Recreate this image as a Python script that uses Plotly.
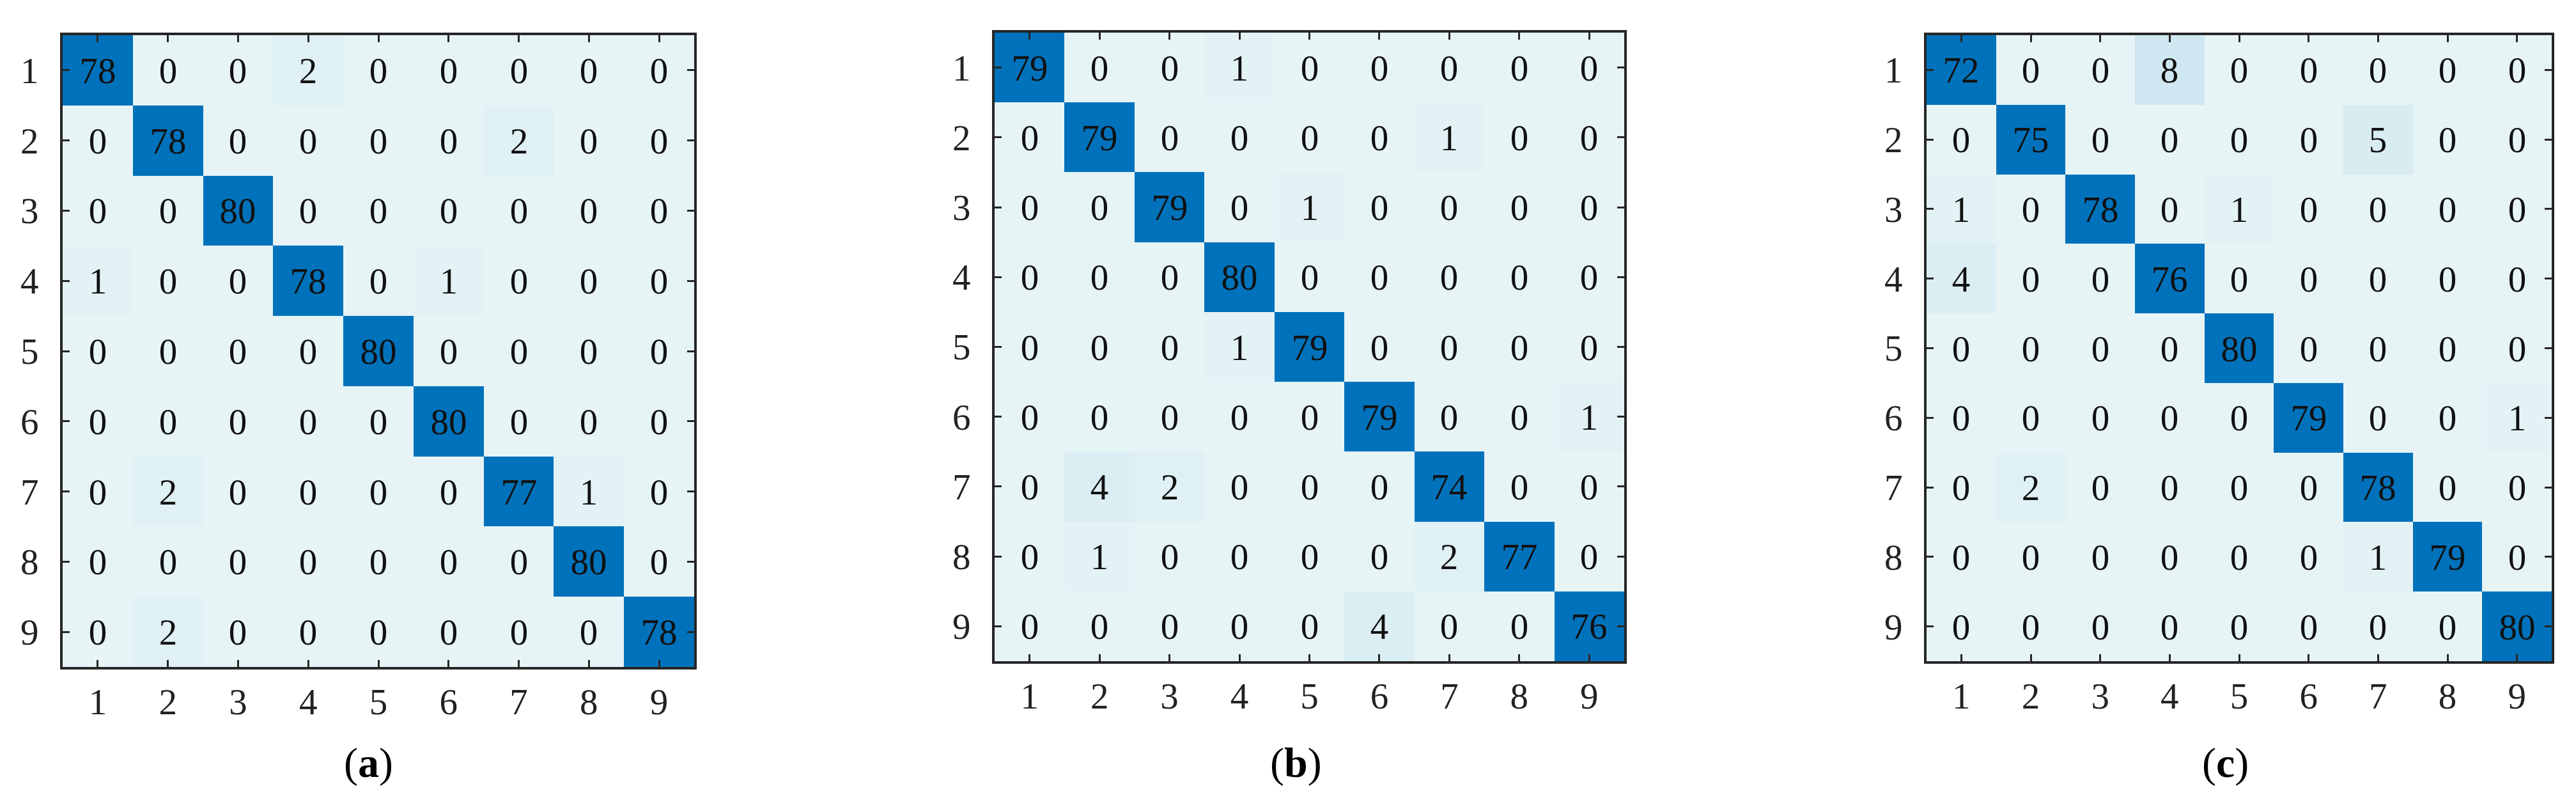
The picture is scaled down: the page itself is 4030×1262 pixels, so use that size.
import plotly.graph_objects as go

classes = [1, 2, 3, 4, 5, 6, 7, 8, 9]
panel_labels = ["a", "b", "c"]

cm_a = [
    [78, 0, 0, 2, 0, 0, 0, 0, 0],
    [0, 78, 0, 0, 0, 0, 2, 0, 0],
    [0, 0, 80, 0, 0, 0, 0, 0, 0],
    [1, 0, 0, 78, 0, 1, 0, 0, 0],
    [0, 0, 0, 0, 80, 0, 0, 0, 0],
    [0, 0, 0, 0, 0, 80, 0, 0, 0],
    [0, 2, 0, 0, 0, 0, 77, 1, 0],
    [0, 0, 0, 0, 0, 0, 0, 80, 0],
    [0, 2, 0, 0, 0, 0, 0, 0, 78],
]

cm_b = [
    [79, 0, 0, 1, 0, 0, 0, 0, 0],
    [0, 79, 0, 0, 0, 0, 1, 0, 0],
    [0, 0, 79, 0, 1, 0, 0, 0, 0],
    [0, 0, 0, 80, 0, 0, 0, 0, 0],
    [0, 0, 0, 1, 79, 0, 0, 0, 0],
    [0, 0, 0, 0, 0, 79, 0, 0, 1],
    [0, 4, 2, 0, 0, 0, 74, 0, 0],
    [0, 1, 0, 0, 0, 0, 2, 77, 0],
    [0, 0, 0, 0, 0, 4, 0, 0, 76],
]

cm_c = [
    [72, 0, 0, 8, 0, 0, 0, 0, 0],
    [0, 75, 0, 0, 0, 0, 5, 0, 0],
    [1, 0, 78, 0, 1, 0, 0, 0, 0],
    [4, 0, 0, 76, 0, 0, 0, 0, 0],
    [0, 0, 0, 0, 80, 0, 0, 0, 0],
    [0, 0, 0, 0, 0, 79, 0, 0, 1],
    [0, 2, 0, 0, 0, 0, 78, 0, 0],
    [0, 0, 0, 0, 0, 0, 1, 79, 0],
    [0, 0, 0, 0, 0, 0, 0, 0, 80],
]

W, H = 4030, 1262
FONT = "Liberation Serif, Times New Roman, serif"
AXCOL = "#262626"

# panel boxes in pixels: left, right, top, bottom
boxes = [(90, 1078, 47, 1035), (1548, 2533, 43, 1026), (3006, 3984, 47, 1026)]
caption_x = [568, 2020, 3473]

colorscale = [[0, "#E6F4F6"], [0.1, "#CFE7F0"], [0.85, "#0072BB"], [1, "#0072BB"]]

fig = go.Figure()

for i, cm in enumerate([cm_a, cm_b, cm_c]):
    n = "" if i == 0 else str(i + 1)
    fig.add_trace(go.Heatmap(
        z=cm, x=classes, y=classes,
        xaxis="x" + n, yaxis="y" + n,
        colorscale=colorscale, zmin=0, zmax=80,
        showscale=False,
        texttemplate="%{z}",
        textfont=dict(family=FONT, size=57, color="#111111"),
    ))

    l, r, t, b = boxes[i]
    axis = dict(
        tickmode="array", tickvals=classes,
        showgrid=False, zeroline=False,
        showline=True, linewidth=4, linecolor=AXCOL, mirror="ticks",
        ticks="inside", ticklen=11, tickwidth=3, tickcolor=AXCOL,
        tickfont=dict(family=FONT, size=57, color="#222222"),
    )
    fig.layout["xaxis" + n] = dict(
        axis, domain=[l / W, r / W], range=[0.5, 9.5],
        anchor="y" + n, ticklabelstandoff=2)
    fig.layout["yaxis" + n] = dict(
        axis, domain=[1 - b / H, 1 - t / H], range=[9.5, 0.5],
        anchor="x" + n, ticklabelstandoff=22)

    fig.add_annotation(
        x=caption_x[i] / W, y=1 - 1185 / H, xref="paper", yref="paper",
        text="(<b>" + panel_labels[i] + "</b>)", showarrow=False,
        xanchor="center", yanchor="middle",
        font=dict(family=FONT, size=66, color="black"))

fig.update_layout(
    width=W, height=H,
    margin=dict(l=0, r=0, t=0, b=0),
    paper_bgcolor="white", plot_bgcolor="white",
    showlegend=False)

fig.write_html("out.html")
